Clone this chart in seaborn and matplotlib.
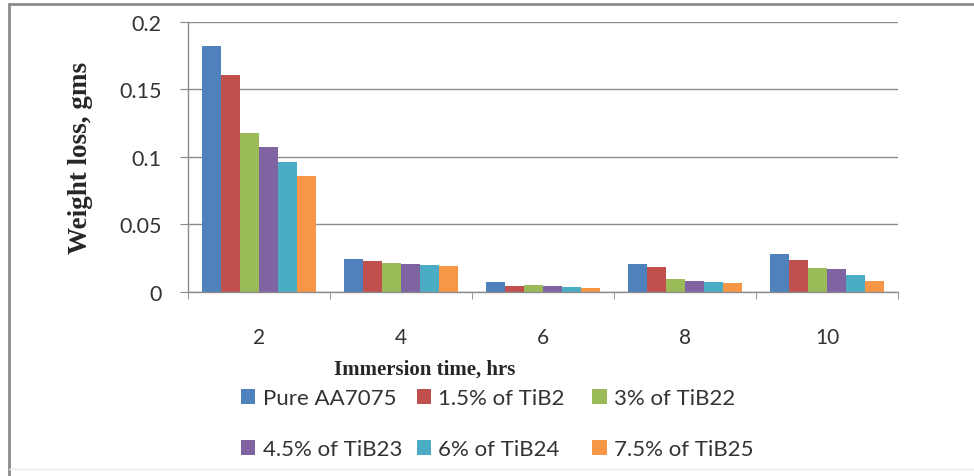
import numpy as np
import matplotlib.pyplot as plt
import seaborn as sns
import pandas as pd
from matplotlib.lines import Line2D
from matplotlib.patches import Patch

# Weight loss (gms), one list per composition
times = ['2', '4', '6', '8', '10']
series = ['Pure AA7075', '1.5% of TiB2', '3% of TiB22',
          '4.5% of TiB23', '6% of TiB24', '7.5% of TiB25']
pure = [0.182, 0.0244, 0.0072, 0.0207, 0.0281]
tib_15 = [0.161, 0.0227, 0.0042, 0.0183, 0.0237]
tib_3 = [0.118, 0.0215, 0.0052, 0.0094, 0.0178]
tib_45 = [0.107, 0.0207, 0.0047, 0.008, 0.0168]
tib_6 = [0.096, 0.0197, 0.0037, 0.0072, 0.0126]
tib_75 = [0.086, 0.0193, 0.0027, 0.0064, 0.0079]
colors = ['#4F81BD', '#C0504D', '#9BBB59', '#8064A2', '#4BACC6', '#F79646']

rows = []
for name, vals in zip(series, [pure, tib_15, tib_3, tib_45, tib_6, tib_75]):
    for t, v in zip(times, vals):
        rows.append({'time': t, 'loss': v, 'series': name})
df = pd.DataFrame(rows)

sns.set_style('white')
plt.rcParams['font.family'] = ['Lato', 'DejaVu Sans']

fig = plt.figure(figsize=(9.74, 4.77), dpi=100)
ax = fig.add_axes([0.193, 0.386, 0.729, 0.566])

sns.barplot(data=df, x='time', y='loss', hue='series', palette=colors,
            order=times, hue_order=series, width=0.8, saturation=1,
            linewidth=0, ax=ax)
ax.get_legend().remove()

ax.set_ylim(0, 0.2)
ax.set_yticks([0, 0.05, 0.1, 0.15, 0.2])
ax.set_yticklabels(['0', '0.05', '0.1', '0.15', '0.2'])
ax.set_xlim(-0.5, 4.5)
ax.set_xticks(np.arange(-0.5, 5, 1), minor=True)
ax.tick_params(axis='x', which='major', length=0, pad=25,
               labelsize=15, labelcolor='#333333')
ax.tick_params(axis='x', which='minor', length=5, color='#888888',
               direction='out', bottom=True)
ax.tick_params(axis='y', length=6, color='#888888', direction='out',
               left=True, labelsize=15.5, labelcolor='#333333', pad=13)
ax.yaxis.grid(True, color='#8c8c8c', linewidth=1)
ax.set_axisbelow(True)
for side in ['top', 'right']:
    ax.spines[side].set_visible(False)
for side in ['left', 'bottom']:
    ax.spines[side].set_color('#8c8c8c')
    ax.spines[side].set_linewidth(1)

ax.set_xlabel('Immersion time, hrs', family='Liberation Serif',
              fontweight='bold', fontsize=15)
ax.xaxis.set_label_coords(0.334, -0.248)
ax.set_ylabel('Weight loss, gms', family='Liberation Serif',
              fontweight='bold', fontsize=19.5)
ax.yaxis.set_label_coords(-0.134, 0.498)

# legend: three fixed-width columns, two rows
handles = [Patch(facecolor=c, edgecolor='none') for c in colors]
col_x = [0.2474, 0.428, 0.608]
for k, x in enumerate(col_x):
    fig.legend([handles[k], handles[k + 3]], [series[k], series[k + 3]],
               ncol=1, loc='upper left', bbox_to_anchor=(x, 0.184),
               frameon=False, fontsize=16, handlelength=0.65,
               handleheight=0.65, handletextpad=0.32, labelspacing=1.4,
               borderaxespad=0, borderpad=0, labelcolor='#333333')

# chart frame
fig.add_artist(Line2D([0.009, 0.009], [0.0, 0.99], color='#8a8a8a',
                      linewidth=2, transform=fig.transFigure))
fig.add_artist(Line2D([0.009, 1.0], [0.99, 0.99], color='#8a8a8a',
                      linewidth=2, transform=fig.transFigure))
fig.add_artist(Line2D([0.009, 1.0], [0.014, 0.014], color='#ececec',
                      linewidth=1, transform=fig.transFigure))

fig.savefig('out.png', dpi=100)
